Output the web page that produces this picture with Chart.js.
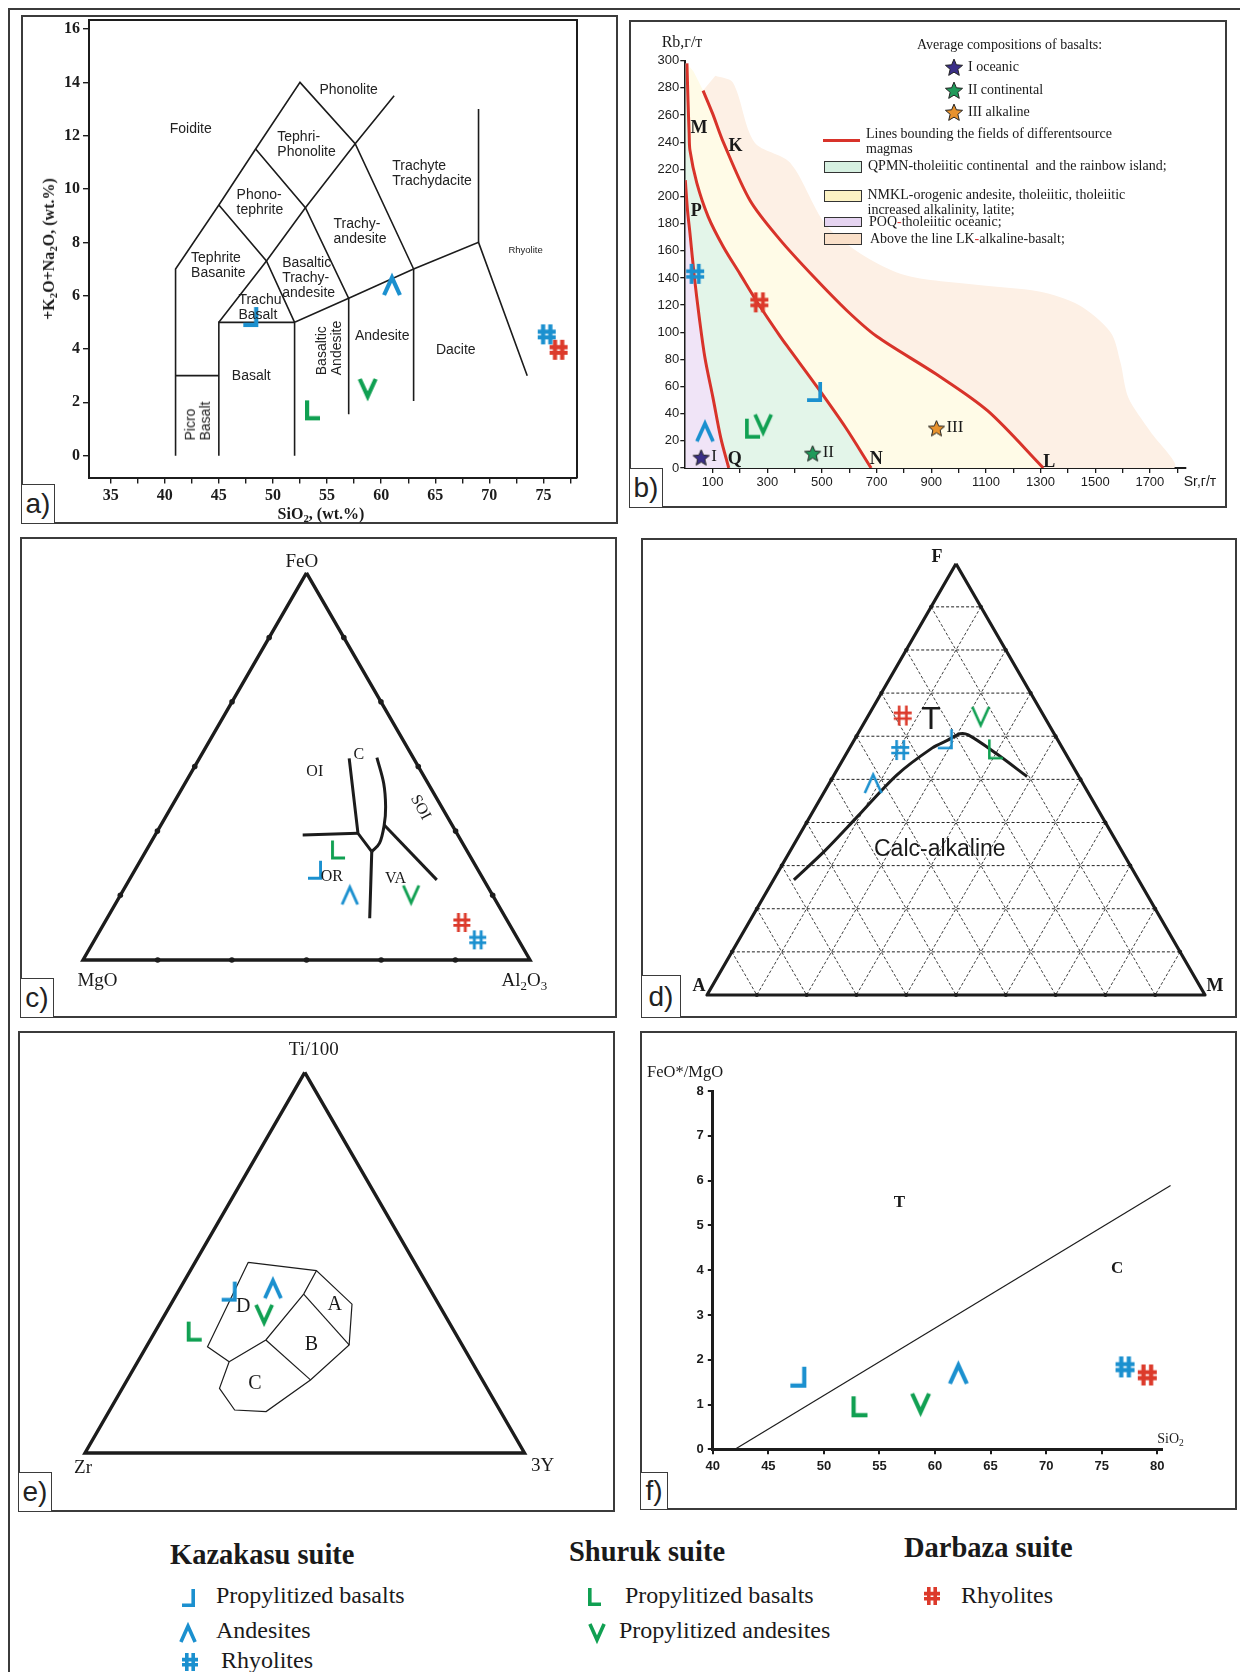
<!DOCTYPE html>
<html lang="en">
<head>
<meta charset="utf-8">
<title>Geochemical diagrams</title>
<script src="https://cdn.jsdelivr.net/npm/chart.js@4.4.1/dist/chart.umd.min.js"></script>
<style>
  html, body { margin:0; padding:0; background:#fff; }
  #page { position:relative; width:1240px; height:1672px; overflow:hidden; background:#fff; color:#1a1a1a;
          font-family:'Liberation Serif','Times New Roman',serif; }
  .box { position:absolute; box-sizing:border-box; border:2px solid #3b3b3b; }
  .plab { position:absolute; box-sizing:border-box; border:1.5px solid #3b3b3b; background:#fff;
          font-family:'Liberation Sans',Arial,sans-serif; font-size:28px; line-height:1;
          display:flex; align-items:center; justify-content:center; color:#222; }
  canvas { position:absolute; }
  .lbl { position:absolute; white-space:nowrap; line-height:1.1; }
  .lbl sub { font-size:0.68em; vertical-align:-0.28em; line-height:0; }
  .swatch { position:absolute; box-sizing:border-box; border:1.5px solid #333; }
</style>
</head>
<body>
<div id="page"></div>
<script>
// ============================ DATA ============================
// sample groups: Kazakasu basalts / andesites / rhyolites, Shuruk basalts / andesites, Darbaza rhyolites
const groupKeys   = ['kb', 'ka', 'kr', 'sb', 'sa', 'dr'];
const groupLabels = ['Propylitized basalts', 'Andesites', 'Rhyolites', 'Propylitized basalts', 'Propylitized andesites', 'Rhyolites'];
const suiteNames  = ['Kazakasu suite', 'Shuruk suite', 'Darbaza suite'];

// a) TAS diagram
const tasSiO2 = [47.95, 61.0, 75.3, 53.65, 58.75, 76.4];
const tasAlk  = [5.2, 6.4, 4.55, 1.7, 2.5, 3.97];
const tasXTicks = [35, 37.5, 40, 42.5, 45, 47.5, 50, 52.5, 55, 57.5, 60, 62.5, 65, 67.5, 70, 72.5, 75, 77.5];
const tasXTickLabels = [35, 40, 45, 50, 55, 60, 65, 70, 75];
const tasYTicks = [0, 2, 4, 6, 8, 10, 12, 14, 16];
const tasBoundaries = [
  [[41,0],[41,7],[45,9.4],[48.4,11.5],[52.5,14],[57.6,11.7],[63,7]],
  [[41,3],[45,3]],
  [[45,0],[45,5],[52,5]],
  [[52,0],[52,5],[57,5.9],[63,7],[69,8],[73.5,3.0]],
  [[69,8],[69,13]],
  [[45,9.4],[49.4,7.3],[52,5]],
  [[45,5],[49.4,7.3],[53,9.3],[57.6,11.7],[61.2,13.5]],
  [[48.4,11.5],[53,9.3],[57,5.9],[57,1.55]],
  [[63,7],[63,2.05]]
];
const tasFieldNames = ['Phonolite', 'Foidite', 'Tephri-<br>Phonolite', 'Trachyte<br>Trachydacite', 'Phono-<br>tephrite',
  'Trachy-<br>andesite', 'Rhyolite', 'Tephrite<br>Basanite', 'Basaltic<br>Trachy-<br>andesite', 'Trachu<br>Basalt',
  'Andesite', 'Dacite', 'Basalt', 'Basaltic<br>Andesite', 'Picro<br>Basalt'];
const tasFieldX = [57.0, 42.4, 53.1, 64.7, 48.8, 58.05, 73.35, 44.95, 53.3, 48.8, 60.1, 66.9, 48.0, 55.2, 43.1];
const tasFieldY = [13.71, 12.25, 11.69, 10.6, 9.5, 8.43, 7.72, 7.15, 6.67, 5.57, 4.48, 3.96, 3.0, 4.04, 1.31];
const tasFieldRot = [0,0,0,0,0,0,0,0,0,0,0,0,0,-90,-90];
const tasFieldSize = [14,14,14,14,14,14,9.5,14,14,14,14,14,14,14,14];

// b) Rb – Sr diagram (g/t)
const srVals = [473, 72, 36, 246, 285, 271];
const rbVals = [56, 27, 143, 29, 32, 122];
const basaltSr = [58, 466, 919];
const basaltRb = [8, 11, 29.5];
const basaltTags = ['I', 'II', 'III'];
const basaltLegend = ['I oceanic', 'II continental', 'III alkaline'];
const srTicks = [100,200,300,400,500,600,700,800,900,1000,1100,1200,1300,1400,1500,1600,1700,1800];
const srTickLabels = [100,300,500,700,900,1100,1300,1500,1700];
const rbTicks = [0,20,40,60,80,100,120,140,160,180,200,220,240,260,280,300];
const linePQ = [[0,212],[8,190],[17,173],[33,141],[51,111],[72,81],[101,52],[130,22],[159,0]];
const lineMN = [[6,298],[10,270],[14,247],[17,234],[42,210],[84,185],[139,163],[200,143],[267,121],[347,97],[383,87],[485,59],[586,30],[680,0]];
const lineKL = [[65,278],[100,261],[139,240],[237,197],[347,168],[469,141],[591,116],[700,97],[919,69],[1107,42],[1310,0]];
const alkalineEdge = [[1788,0],[1701,27],[1621,52],[1592,78],[1556,100],[1440,120],[1295,130],[1064,135],[774,144],[528,176],[383,225],[253,240],[174,284],[110,289]];
const bLetters = ['M', 'K', 'P', 'Q', 'N', 'L'];
const bLetterSr = [50, 184, 40, 181, 699, 1332];
const bLetterRb = [251, 238, 190, 7, 7.6, 5.2];

// c) FeO – MgO – Al2O3 (values: FeO, MgO, Al2O3 %)
const pearceFeO = [23.2, 16.8, 5.2, 28.4, 16.8, 9.7];
const pearceMgO = [36.5, 31.9, 9.1, 28.7, 18.2, 10.4];
const pearceAl  = [40.3, 51.3, 85.7, 42.8, 65.0, 79.9];
const pearceTicks = [16.7, 33.3, 50, 66.7, 83.3];
const pearceContLeft  = [[52.1,14.4,33.5],[32.7,22.1,45.1],[28.0,21.4,50.6]];
const pearceContRight = [[52.3,8.1,39.6],[45.6,9.9,44.4],[39.6,12.5,47.9],[34.9,15.2,50.0],[30.2,18.6,51.3],[28.0,21.4,50.6]];
const pearceOILine  = [[32.3,34.7,33.0],[32.7,22.1,45.1]];
const pearceORLine  = [[28.0,21.4,50.6],[10.8,30.5,58.8]];
const pearceSOILine = [[34.9,15.2,50.0],[20.7,10.5,68.8]];
const pearceFieldNames = ['OI', 'C', 'SOI', 'OR', 'VA'];
const pearceFieldFeO = [48.9, 53.2, 39.6, 21.7, 21.2];
const pearceFieldMgO = [23.7, 11.7, 4.6, 33.5, 19.5];
const pearceFieldAl  = [27.4, 35.1, 55.8, 44.8, 59.3];

// d) AFM (F, A, M %)
const afmF = [59.3, 49.2, 56.8, 57.0, 64.5, 64.8];
const afmA = [22.5, 42.1, 32.8, 13.6, 12.8, 28.3];
const afmM = [18.2, 8.8, 10.4, 29.5, 22.7, 6.9];
const afmGridLevels = [10, 20, 30, 40, 50, 60, 70, 80, 90];
const afmDivide = [[26.7,69.2,4.1],[33.6,59.4,7.0],[41.3,49.2,9.5],[51.0,36.4,12.6],[57.3,26.1,16.6],[59.1,22.1,18.8],[60.5,18.9,20.5],[60.3,17.4,22.3],[56.1,14.0,29.9],[50.6,10.4,38.9]];

// e) Ti/100 – Zr – 3Y (Ti/100, Zr, 3Y %)
const tzyTi = [42.4, 43.3, null, 31.9, 36.3, null];
const tzyZr = [46.0, 35.6, null, 59.2, 41.1, null];
const tzyY  = [11.6, 21.1, null, 8.9, 22.6, null];
const tzyOutline = [[50.1,37.8,12.1],[47.9,23.4,28.7],[39.1,19.7,41.2],[28.4,25.7,45.9],[19.2,39.1,41.7],[10.9,53.4,35.8],[11.3,60.3,28.4],[17.0,60.9,22.1],[24.0,55.2,20.8],[27.9,58.1,13.9],[50.1,37.8,12.1]];
const tzyInnerD = [[47.9,23.4,28.7],[41.8,29.4,28.9],[29.7,44.0,26.3],[24.0,55.2,20.8]];
const tzyInnerA = [[41.8,29.4,28.9],[28.4,25.7,45.9]];
const tzyInnerC = [[29.7,44.0,26.3],[19.2,39.1,41.7]];
const tzyFieldNames = ['D', 'A', 'B', 'C'];
const tzyFieldTi = [38.9, 39.3, 28.8, 18.7];
const tzyFieldZr = [44.6, 23.5, 34.1, 52.0];
const tzyFieldY  = [16.6, 37.2, 37.1, 29.3];

// f) FeO*/MgO vs SiO2
const fSiO2  = [47.7, 62.1, 77.1, 53.2, 58.7, 79.1];
const fRatio = [1.61, 1.70, 1.84, 0.95, 1.01, 1.66];
const fXTicks = [40, 45, 50, 55, 60, 65, 70, 75, 80];
const fYTicks = [0, 1, 2, 3, 4, 5, 6, 7, 8];
const fDivide = [[42.0, 0], [81.2, 5.89]];

// ============================ STYLE / HELPERS ============================
const page = document.getElementById('page');
const SERIF = "'Liberation Serif','Times New Roman',serif";
const SANS = "'Liberation Sans',Arial,sans-serif";
const INK = '#1c1c1c';
const COLORS = {kb:'#1b90cf', ka:'#1b90cf', kr:'#1b90cf', sb:'#10a052', sa:'#10a052', dr:'#dc3a2b'};
const SHAPES = {kb:'corner', ka:'caret', kr:'hash', sb:'ell', sa:'vee', dr:'hash'};
const STAR_COLORS = ['#3b2f88', '#1f9a5a', '#e8922d'];
const RED_LINE = '#d8332a';

Chart.defaults.animation = false;
Chart.defaults.responsive = false;
Chart.defaults.maintainAspectRatio = false;
Chart.defaults.devicePixelRatio = 1;
Chart.defaults.events = [];
Chart.defaults.plugins.legend.display = false;
Chart.defaults.plugins.tooltip.enabled = false;
Chart.defaults.font.family = SANS;
Chart.defaults.color = INK;

function div(cls, x, y, w, h, css) {
  const d = document.createElement('div');
  d.className = cls;
  d.style.left = x + 'px'; d.style.top = y + 'px';
  d.style.width = w + 'px'; d.style.height = h + 'px';
  if (css) d.style.cssText += css;
  page.appendChild(d);
  return d;
}
function txt(x, y, html, css, anchor, rot) {
  const d = document.createElement('div');
  d.className = 'lbl';
  d.innerHTML = html;
  d.style.left = x + 'px'; d.style.top = y + 'px';
  let tr = anchor === 'l' ? 'translate(0,-50%)' : 'translate(-50%,-50%)';
  if (rot) tr += ' rotate(' + rot + 'deg)';
  d.style.cssText += css;
  d.style.transform = tr;
  page.appendChild(d);
  return d;
}
function placeImg(img, cx, cy) {
  img.style.left = (cx - img.width / 2) + 'px';
  img.style.top = (cy - img.height / 2) + 'px';
  page.appendChild(img);
}
function makeCanvas(f) {
  const c = document.createElement('canvas');
  c.width = f.w; c.height = f.h;
  c.style.left = f.x + 'px'; c.style.top = f.y + 'px';
  c.style.width = f.w + 'px'; c.style.height = f.h + 'px';
  page.appendChild(c);
  return c;
}
function glyph(shape, h, lw, color) {
  const w = Math.round(h * ((shape === 'corner' || shape === 'ell') ? 0.74 : 0.9));
  const p = Math.ceil(lw) + 1;
  const c = document.createElement('canvas');
  c.width = w + 2 * p; c.height = h + 2 * p;
  const g = c.getContext('2d');
  g.translate(p, p);
  g.strokeStyle = color; g.lineWidth = lw; g.lineJoin = 'miter'; g.miterLimit = 4; g.lineCap = 'butt';
  const e = lw / 2;
  g.beginPath();
  if (shape === 'corner') { g.moveTo(w - e, 0); g.lineTo(w - e, h - e); g.lineTo(0, h - e); }
  else if (shape === 'ell') { g.moveTo(e, 0); g.lineTo(e, h - e); g.lineTo(w, h - e); }
  else if (shape === 'caret') { g.moveTo(e * 0.5, h); g.lineTo(w / 2, e * 1.2); g.lineTo(w - e * 0.5, h); }
  else if (shape === 'vee') { g.moveTo(e * 0.5, 0); g.lineTo(w / 2, h - e * 1.2); g.lineTo(w - e * 0.5, 0); }
  else {
    g.moveTo(w * 0.3, 0); g.lineTo(w * 0.3, h); g.moveTo(w * 0.7, 0); g.lineTo(w * 0.7, h);
    g.moveTo(0, h * 0.37); g.lineTo(w, h * 0.37); g.moveTo(0, h * 0.65); g.lineTo(w, h * 0.65);
  }
  g.stroke();
  return c;
}
function starImg(size, color) {
  const s = size + 4;
  const c = document.createElement('canvas');
  c.width = s; c.height = s;
  const g = c.getContext('2d');
  const cx = s / 2, cy = s / 2 + size * 0.06, R = size / 2, r = R * 0.45;
  g.beginPath();
  for (let i = 0; i < 10; i++) {
    const a = -Math.PI / 2 + i * Math.PI / 5, rr = i % 2 ? r : R;
    g.lineTo(cx + rr * Math.cos(a), cy + rr * Math.sin(a));
  }
  g.closePath();
  g.fillStyle = color; g.fill();
  g.strokeStyle = '#222'; g.lineWidth = 1; g.stroke();
  return c;
}
const SQ = Math.sqrt(3) / 2;
function tern(top, left, right) {
  const s = top + left + right;
  return {x: (right + top / 2) / s, y: (top / s) * SQ};
}
function lineSet(pts, color, width, extra) {
  return Object.assign({type:'scatter', data: pts.map(p => ({x:p[0], y:p[1]})), showLine:true, fill:false,
    borderColor:color, borderWidth:width, pointRadius:0, pointHoverRadius:0, tension:0, order:5}, extra || {});
}
function tline(arr, color, width, extra) {
  return lineSet(arr.map(t => { const p = tern(t[0], t[1], t[2]); return [p.x, p.y]; }), color, width, extra);
}
function fillSet(pts, color) {
  return lineSet(pts, 'rgba(0,0,0,0)', 0, {fill:'shape', backgroundColor:color, order:9, tension:0.3});
}
function markerSet(key, x, y, h, lw) {
  return {type:'scatter', data:[{x, y}], pointStyle: glyph(SHAPES[key], h, lw, COLORS[key]),
    pointRadius:6, pointHoverRadius:6, clip:false, order:1, showLine:false};
}
function markerSets(xs, ys, h, lw) {
  return groupKeys.map((k, i) => xs[i] == null ? null : markerSet(k, xs[i], ys[i], h, lw)).filter(Boolean);
}
function ternMarkerSets(tops, lefts, rights, h, lw) {
  return groupKeys.map((k, i) => {
    if (tops[i] == null) return null;
    const p = tern(tops[i], lefts[i], rights[i]);
    return markerSet(k, p.x, p.y, h, lw);
  }).filter(Boolean);
}
function fix(size) {
  return s => {
    if (s.isHorizontal()) s.height = size; else s.width = size;
    s.paddingLeft = 0; s.paddingRight = 0; s.paddingTop = 0; s.paddingBottom = 0;
  };
}
function ticksFrom(values) { return s => { s.ticks = values.map(v => ({value: v})); }; }
function axis(pos, min, max, tickVals, labelVals, size, font, tickLen, pad, borderW, tickW) {
  return {
    type:'linear', position:pos, bounds:'data', min, max,
    afterBuildTicks: ticksFrom(tickVals),
    afterFit: fix(size),
    ticks:{autoSkip:false, maxRotation:0, minRotation:0, padding:pad, color:INK, font,
      callback: v => labelVals.some(l => Math.abs(l - v) < 1e-9) ? String(v) : ''},
    grid:{display:true, drawOnChartArea:false, drawTicks:true, tickLength:tickLen, color:INK, lineWidth:tickW},
    border:{display:true, color:INK, width:borderW}
  };
}
function frameAxis(pos) {
  return {type:'linear', position:pos, bounds:'data', min:0, max:1, afterFit: fix(0), afterBuildTicks: ticksFrom([]),
    ticks:{display:false}, grid:{display:false, drawTicks:false}, border:{display:true, color:INK, width:2}};
}
function padFor(f, a) {
  return {autoPadding:false, padding:{left:0, top:a.t - f.y, right:f.x + f.w - a.r, bottom:0}};
}
function ternaryChart(frame, tri, datasets) {
  const xmin = (frame.x - tri.lx) / tri.s, xmax = xmin + frame.w / tri.s;
  const ymax = (tri.by - frame.y) / tri.s, ymin = ymax - frame.h / tri.s;
  return new Chart(makeCanvas(frame), {type:'scatter', data:{datasets},
    options:{layout:{autoPadding:false, padding:0},
      scales:{x:{type:'linear', display:false, bounds:'data', min:xmin, max:xmax},
              y:{type:'linear', display:false, bounds:'data', min:ymin, max:ymax}}}});
}
function at(chart, frame, x, y) {
  return [frame.x + chart.scales.x.getPixelForValue(x), frame.y + chart.scales.y.getPixelForValue(y)];
}
function atT(chart, frame, t) { const p = tern(t[0], t[1], t[2]); return at(chart, frame, p.x, p.y); }
const reversed = a => a.slice().reverse();

// ============================ FRAMES ============================
div('box', 8, 8, 1240, 1700);
div('box', 21, 15, 597, 509);
div('box', 629, 20, 598, 488);
div('box', 20, 537, 597, 481);
div('box', 641, 538, 596, 480);
div('box', 18, 1031, 597, 481);
div('box', 640, 1031, 597, 479);

// ============================ a) TAS ============================
const aFrame = {x:22, y:16, w:595, h:507};
const aArea = {l:89, t:19.5, r:577, b:477.5};
const chartA = new Chart(makeCanvas(aFrame), {
  type:'scatter',
  data:{datasets:[...tasBoundaries.map(b => lineSet(b, INK, 1.6)), ...markerSets(tasSiO2, tasAlk, 20, 4.2)]},
  options:{
    layout: padFor(aFrame, aArea),
    scales:{
      x: axis('bottom', 33.0, 78.1, tasXTicks, tasXTickLabels, aFrame.y + aFrame.h - aArea.b,
              {family:SERIF, weight:'bold', size:16}, 6, 3, 2, 1.4),
      y: axis('left', -0.82, 16.36, tasYTicks, tasYTicks, aArea.l - aFrame.x,
              {family:SERIF, weight:'bold', size:16}, 6, 3, 2, 1.4),
      x2: frameAxis('top'),
      y2: frameAxis('right')
    }
  }
});
tasFieldNames.forEach((n, i) => {
  const [px, py] = at(chartA, aFrame, tasFieldX[i], tasFieldY[i]);
  txt(px, py, n, `font:${tasFieldSize[i]}px ${SANS};text-align:left;color:#222;line-height:1.08;`, 'c', tasFieldRot[i]);
});
txt(49.4, 248.5, '+K<sub>2</sub>O+Na<sub>2</sub>O, (wt.%)', `font:bold 16px ${SERIF};`, 'c', -90);
txt(321, 514, 'SiO<sub>2</sub>, (wt.%)', `font:bold 16px ${SERIF};`, 'c');

// ============================ b) Rb–Sr ============================
const bFrame = {x:631, y:22, w:595, h:485};
const bArea = {l:685.3, t:60.7, r:1185.4, b:468};
const bDatasets = [
  fillSet([[0,0], ...linePQ], '#f0e4f7'),
  fillSet([...linePQ, [680,0], ...reversed(lineMN), [0,298]], '#e3f5e9'),
  fillSet([...lineMN, [1310,0], ...reversed(lineKL), [30,292]], '#fffbe7'),
  fillSet([...lineKL, ...alkalineEdge], '#fdf0e5'),
  lineSet(linePQ, RED_LINE, 3, {tension:0.3}),
  lineSet(lineMN, RED_LINE, 3, {tension:0.3}),
  lineSet(lineKL, RED_LINE, 3, {tension:0.3}),
  ...basaltSr.map((s, i) => ({type:'scatter', data:[{x:s, y:basaltRb[i]}], pointStyle: starImg(17, STAR_COLORS[i]),
     pointRadius:6, clip:false, order:2})),
  ...markerSets(srVals, rbVals, 20, 3.7)
];
const chartB = new Chart(makeCanvas(bFrame), {
  type:'scatter',
  data:{datasets:bDatasets},
  options:{
    layout: padFor(bFrame, bArea),
    scales:{
      x: axis('bottom', 0, 1830, srTicks, srTickLabels, bFrame.y + bFrame.h - bArea.b,
              {family:SANS, size:13}, 5, 2, 2, 1.3),
      y: axis('left', 0, 300, rbTicks, rbTicks, bArea.l - bFrame.x, {family:SANS, size:13}, 5, 1, 2, 1.3)
    }
  }
});
bLetters.forEach((n, i) => {
  const [px, py] = at(chartB, bFrame, bLetterSr[i], bLetterRb[i]);
  txt(px, py, n, `font:bold 18px ${SERIF};`, 'c');
});
basaltTags.forEach((n, i) => {
  const [px, py] = at(chartB, bFrame, basaltSr[i], basaltRb[i]);
  txt(px + 10, py - 1, n, `font:17px ${SERIF};`, 'l');
});
txt(682, 41.7, 'Rb,г/т', `font:16px ${SERIF};`, 'c');
txt(1200, 480.5, 'Sr,г/т', `font:14px ${SANS};`, 'c');
// legend of b
txt(917, 45, 'Average compositions of basalts:', `font:14px ${SERIF};`, 'l');
const bLegY = [67.3, 90, 111.7];
basaltLegend.forEach((n, i) => {
  placeImg(starImg(18, STAR_COLORS[i]), 954, bLegY[i]);
  txt(968, bLegY[i], n, `font:14px ${SERIF};`, 'l');
});
div('lbl', 823, 138.5, 37, 3, `background:${RED_LINE};`);
txt(866, 140.5, 'Lines bounding the fields of differentsource<br>magmas', `font:14px ${SERIF};line-height:15px;`, 'l');
div('swatch', 824, 161, 38, 11.5, 'background:#d6f0e1;');
txt(868, 166, 'QPMN-tholeiitic continental &nbsp;and the rainbow island;', `font:14px ${SERIF};`, 'l');
div('swatch', 824, 190, 38, 11.5, 'background:#fcf2c4;');
txt(867.5, 202, 'NMKL-orogenic andesite, tholeiitic, tholeiitic<br>increased alkalinity, latite;', `font:14px ${SERIF};line-height:14.5px;`, 'l');
div('swatch', 824, 216.5, 38, 10.5, 'background:#e5d4f1;');
txt(869, 222, 'POQ<span style="color:#d33">-</span>tholeiitic oceanic;', `font:14px ${SERIF};`, 'l');
div('swatch', 824, 233, 38, 11.5, 'background:#fae0c9;');
txt(870, 239.3, 'Above the line LK<span style="color:#d33">-</span>alkaline-basalt;', `font:14px ${SERIF};`, 'l');

// ============================ c) FeO–MgO–Al2O3 ============================
const cFrame = {x:22, y:539, w:593, h:477};
const cTri = {lx:83, by:960, s:447};
const cTickPts = [];
pearceTicks.forEach(g => {
  cTickPts.push(tern(0, 100 - g, g), tern(g, 100 - g, 0), tern(g, 0, 100 - g));
});
const chartC = ternaryChart(cFrame, cTri, [
  tline([[100,0,0],[0,100,0],[0,0,100],[100,0,0]], INK, 3.4, {borderJoinStyle:'miter'}),
  {type:'scatter', data:cTickPts, pointRadius:2.8, pointStyle:'circle', backgroundColor:INK, borderWidth:0, order:4},
  tline(pearceContLeft, INK, 3),
  tline(pearceContRight, INK, 3, {tension:0.35}),
  tline(pearceOILine, INK, 3),
  tline(pearceORLine, INK, 3),
  tline(pearceSOILine, INK, 3),
  ...ternMarkerSets(pearceFeO, pearceMgO, pearceAl, 19, 2.9)
]);
pearceFieldNames.forEach((n, i) => {
  const [px, py] = atT(chartC, cFrame, [pearceFieldFeO[i], pearceFieldMgO[i], pearceFieldAl[i]]);
  txt(px, py, n, `font:16px ${SERIF};`, 'c', n === 'SOI' ? 62 : 0);
});
{
  const [tx, ty] = atT(chartC, cFrame, [100,0,0]);
  const [lx, ly] = atT(chartC, cFrame, [0,100,0]);
  const [rx, ry] = atT(chartC, cFrame, [0,0,100]);
  txt(tx - 4.6, ty - 11.5, 'FeO', `font:19px ${SERIF};`, 'c');
  txt(lx + 14.5, ly + 20, 'MgO', `font:19px ${SERIF};`, 'c');
  txt(rx - 5.7, ry + 20, 'Al<sub>2</sub>O<sub>3</sub>', `font:19px ${SERIF};`, 'c');
}

// ============================ d) AFM ============================
const dFrame = {x:643, y:540, w:592, h:476};
const dTri = {lx:707, by:995, s:498};
const dGrid = [];
const dDots = [];
afmGridLevels.forEach(g => {
  const dash = {borderDash:[3, 2], order:8};
  dGrid.push(tline([[g, 100 - g, 0], [g, 0, 100 - g]], '#202020', 1.0, dash));
  dGrid.push(tline([[100 - g, g, 0], [0, g, 100 - g]], '#2a2a2a', 0.9, dash));
  dGrid.push(tline([[100 - g, 0, g], [0, 100 - g, g]], '#2a2a2a', 0.9, dash));
  dDots.push(tern(g, 100 - g, 0), tern(g, 0, 100 - g), tern(0, 100 - g, g));
});
const chartD = ternaryChart(dFrame, dTri, [
  tline([[100,0,0],[0,100,0],[0,0,100],[100,0,0]], INK, 3.2, {borderJoinStyle:'round'}),
  ...dGrid,
  {type:'scatter', data:dDots, pointRadius:2, pointStyle:'circle', backgroundColor:INK, borderWidth:0, order:4},
  tline(afmDivide, INK, 3, {tension:0.3}),
  ...ternMarkerSets(afmF, afmA, afmM, 20, 2.6)
]);
{
  const [tx, ty] = atT(chartD, dFrame, [100,0,0]);
  const [lx, ly] = atT(chartD, dFrame, [0,100,0]);
  const [rx, ry] = atT(chartD, dFrame, [0,0,100]);
  txt(tx - 19, ty - 8, 'F', `font:bold 18px ${SERIF};`, 'c');
  txt(lx - 8, ly - 10, 'A', `font:bold 18px ${SERIF};`, 'c');
  txt(rx + 10, ry - 10, 'M', `font:bold 18px ${SERIF};`, 'c');
  const [Tx, Ty] = atT(chartD, dFrame, [64.2, 22.9, 12.9]);
  txt(Tx, Ty, 'T', `font:32px ${SANS};`, 'c');
  const [cx, cy] = atT(chartD, dFrame, [34.1, 36.2, 29.7]);
  txt(cx, cy, 'Calc-alkaline', `font:23px ${SANS};`, 'c');
}

// ============================ e) Ti–Zr–Y ============================
const eFrame = {x:20, y:1033, w:593, h:477};
const eTri = {lx:85, by:1453, s:439.5};
const chartE = ternaryChart(eFrame, eTri, [
  tline([[100,0,0],[0,100,0],[0,0,100],[100,0,0]], INK, 3.4, {borderJoinStyle:'miter'}),
  tline(tzyOutline, INK, 1.2),
  tline(tzyInnerD, INK, 1.2),
  tline(tzyInnerA, INK, 1.2),
  tline(tzyInnerC, INK, 1.2),
  ...ternMarkerSets(tzyTi, tzyZr, tzyY, 20, 3.8)
]);
tzyFieldNames.forEach((n, i) => {
  const [px, py] = atT(chartE, eFrame, [tzyFieldTi[i], tzyFieldZr[i], tzyFieldY[i]]);
  txt(px, py, n, `font:20px ${SERIF};`, 'c');
});
{
  const [tx, ty] = atT(chartE, eFrame, [100,0,0]);
  const [lx, ly] = atT(chartE, eFrame, [0,100,0]);
  const [rx, ry] = atT(chartE, eFrame, [0,0,100]);
  txt(tx + 9, ty - 23, 'Ti/100', `font:19px ${SERIF};`, 'c');
  txt(lx - 2, ly + 14, 'Zr', `font:19px ${SERIF};`, 'c');
  txt(rx + 18, ry + 12, '3Y', `font:19px ${SERIF};`, 'c');
}

// ============================ f) FeO*/MgO – SiO2 ============================
const fFrame = {x:642, y:1033, w:594, h:476};
const fArea = {l:712.8, t:1091, r:1161.7, b:1449.3};
const chartF = new Chart(makeCanvas(fFrame), {
  type:'scatter',
  data:{datasets:[lineSet(fDivide, INK, 1.2, {clip:false}), ...markerSets(fSiO2, fRatio, 21, 4.2)]},
  options:{
    layout: padFor(fFrame, fArea),
    scales:{
      x: axis('bottom', 40, 80.4, fXTicks, fXTicks, fFrame.y + fFrame.h - fArea.b,
              {family:SANS, weight:'bold', size:13}, 5, 4, 3, 2),
      y: axis('left', 0, 8, fYTicks, fYTicks, fArea.l - fFrame.x, {family:SANS, weight:'bold', size:13}, 5, 4, 3, 2)
    }
  }
});
{
  let [px, py] = at(chartF, fFrame, 56.8, 5.53);
  txt(px, py, 'T', `font:bold 17px ${SERIF};`, 'c');
  [px, py] = at(chartF, fFrame, 76.4, 4.04);
  txt(px, py, 'C', `font:bold 17px ${SERIF};`, 'c');
  [px, py] = at(chartF, fFrame, 81.2, 0.22);
  txt(px, py, 'SiO<sub>2</sub>', `font:14px ${SERIF};`, 'c');
  [px, py] = at(chartF, fFrame, 37.5, 8.42);
  txt(px, py, 'FeO*/MgO', `font:16.5px ${SERIF};`, 'c');
}

// ============================ panel tags ============================
[['a)', 21, 484, 34, 40], ['b)', 629, 468, 34, 40], ['c)', 20, 978, 34, 40],
 ['d)', 641, 975, 40, 43], ['e)', 18, 1472, 34, 40], ['f)', 640, 1472, 28, 38]].forEach(p => {
  const d = div('plab', p[1], p[2], p[3], p[4]);
  d.textContent = p[0];
});

// ============================ bottom legend ============================
const suiteX = [170, 569, 904], suiteY = [1555, 1552, 1548];
suiteNames.forEach((n, i) => txt(suiteX[i], suiteY[i], n, `font:bold 28.5px ${SERIF};`, 'l'));
const legGlyphX = [188, 188, 190, 594.7, 597, 931.6];
const legGlyphY = [1598, 1633, 1662, 1597, 1633, 1596];
const legTextX = [216, 216, 221, 625, 619, 961];
const legTextY = [1595, 1630, 1660, 1595, 1630, 1595];
groupKeys.forEach((k, i) => {
  placeImg(glyph(SHAPES[k], 18, 3.6, COLORS[k]), legGlyphX[i], legGlyphY[i]);
  txt(legTextX[i], legTextY[i], groupLabels[i], `font:24px ${SERIF};`, 'l');
});
</script>
</body>
</html>
